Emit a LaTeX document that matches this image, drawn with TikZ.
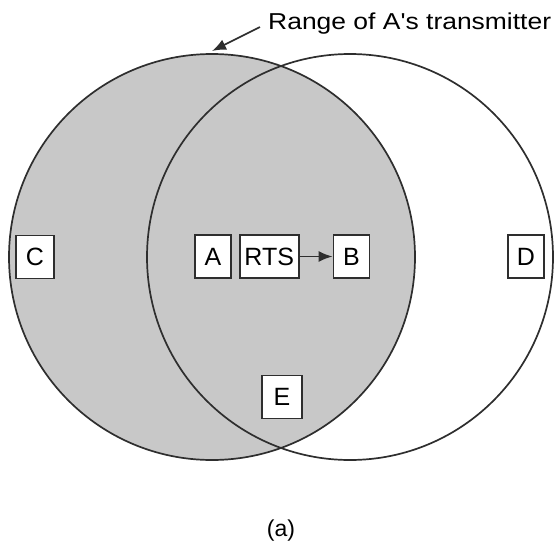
\documentclass[tikz,border=0pt]{standalone}
\usepackage{fontspec}
\setmainfont{Liberation Sans}[Ligatures=TeXOff]
\usetikzlibrary{arrows.meta,positioning}
\definecolor{RangeGray}{HTML}{C8C8C8}
\definecolor{EdgeGray}{HTML}{2E2E2E}

\begin{document}
\begin{tikzpicture}[x=1pt,y=1pt,
  stn/.style={rectangle,draw=EdgeGray,line width=1.7pt,fill=white,
              minimum width=36pt,minimum height=43pt,inner sep=2pt,
              font=\fontsize{25}{29}\selectfont},
  rangeline/.style={draw=EdgeGray,line width=1.7pt},
  arr/.style={-{Latex[length=14pt,width=11pt]},line width=1.7pt,EdgeGray}]
\useasboundingbox (0,0) rectangle (557,-544);
% ranges of A and B
\fill[RangeGray] (212,-257) circle (203pt);
\draw[rangeline] (212,-257) circle (203pt);
\draw[rangeline] (350,-257) circle (203pt);
% stations
\node[stn] (a) at (213,-256.5) {A};
\node[stn,minimum width=59pt,right=7pt of a] (rts) {RTS};
\node[stn,right=33pt of rts] (b) {B};
\node[stn,minimum width=38pt] (c) at (35,-257) {C};
\node[stn] (d) at (526,-256.5) {D};
\node[stn,minimum width=40pt] (e) at (282,-397) {E};
\draw[arr] (rts) -- (b);
% labels
\node[font=\fontsize{23}{27}\selectfont,xscale=1.15,inner sep=0pt,
      anchor=base west] (lbl) at (268,-29) {Range of A's transmitter};
\coordinate (top) at (212,-51);
\draw[arr,shorten <=9pt] (lbl.west) -- (top);
\node[font=\fontsize{23}{27}\selectfont] (cap) at (281,-531) {(a)};
\end{tikzpicture}
\end{document}
